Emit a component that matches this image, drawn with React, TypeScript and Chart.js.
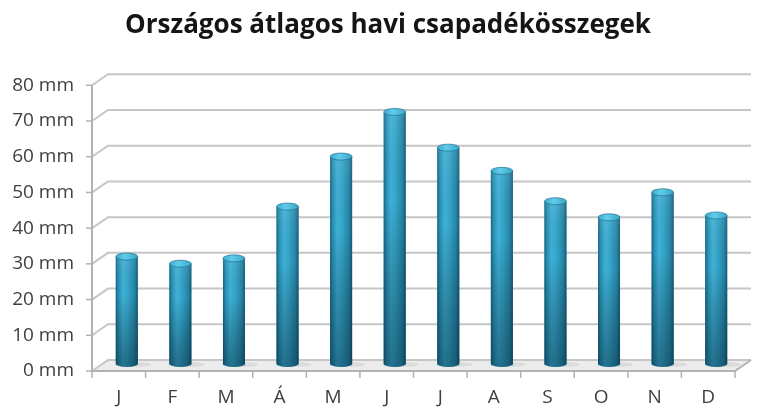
import React, { useEffect, useRef } from 'react';
import { Chart, registerables } from 'chart.js';

Chart.register(...registerables);

const chartTitle = 'Országos átlagos havi csapadékösszegek';
const months = ['J', 'F', 'M', 'Á', 'M', 'J', 'J', 'A', 'S', 'O', 'N', 'D'];
const rainfall = [30.5, 28.5, 30, 44.5, 58.5, 71, 61, 54.5, 46, 41.5, 48.5, 42];
const yMin = 0;
const yMax = 80;
const yStep = 10;
const unit = 'mm';

const DX = 8;
const DY = 5.5;

const depthPlugin = {
  id: 'depth3d',
  afterLayout(chart: any) {
    // let the y-axis labels use the space left of the title's box
    chart.scales.y.left = 0;
  },
  beforeDatasetsDraw(chart: any) {
    const { ctx, chartArea: a, scales } = chart;
    const x = scales.x;
    const y = scales.y;
    const fl = a.left - DX;
    const fr = a.right - DX;
    const bl = a.left + DX;
    const br = a.right + DX;
    const y0 = y.getPixelForValue(yMin);
    const fy = y0 + DY;
    const by = y0 - DY;
    ctx.save();
    // floor
    ctx.beginPath();
    ctx.moveTo(fl, fy);
    ctx.lineTo(fr, fy);
    ctx.lineTo(br, by);
    ctx.lineTo(bl, by);
    ctx.closePath();
    ctx.fillStyle = '#ececec';
    ctx.fill();
    // back grid lines with side wall diagonal
    ctx.strokeStyle = '#c6c6c6';
    ctx.lineWidth = 2;
    y.ticks.forEach((t: any) => {
      const py = y.getPixelForValue(t.value);
      ctx.beginPath();
      ctx.moveTo(fl, py + DY);
      ctx.lineTo(bl, py - DY);
      ctx.lineTo(br, py - DY);
      ctx.stroke();
    });
    // front axes
    ctx.strokeStyle = '#b2b2b2';
    ctx.beginPath();
    ctx.moveTo(fl, y.getPixelForValue(yMax) + DY);
    ctx.lineTo(fl, fy);
    ctx.lineTo(fr, fy);
    ctx.lineTo(br, by);
    ctx.stroke();
    // y tick marks
    ctx.lineWidth = 1.5;
    y.ticks.forEach((t: any) => {
      const py = y.getPixelForValue(t.value) + DY;
      ctx.beginPath();
      ctx.moveTo(fl - 6, py);
      ctx.lineTo(fl, py);
      ctx.stroke();
    });
    // x tick marks at category boundaries
    for (let i = 0; i <= months.length; i++) {
      const px = x.getPixelForValue(i - 0.5) - DX;
      ctx.beginPath();
      ctx.moveTo(px, fy);
      ctx.lineTo(px, fy + 7);
      ctx.stroke();
    }
    ctx.restore();
  },
  afterDatasetsDraw(chart: any) {
    const { ctx } = chart;
    const meta = chart.getDatasetMeta(0);
    ctx.save();
    meta.data.forEach((bar: any) => {
      const p = bar.getProps(['x', 'y', 'base', 'width'], true);
      const cx = p.x;
      const top = p.y;
      const base = p.base - 2;
      const w = p.width;
      const l = cx - w / 2;
      const r = cx + w / 2;
      const ry = 3.5;
      // floor shadow
      ctx.fillStyle = 'rgba(110,110,110,0.12)';
      ctx.beginPath();
      ctx.ellipse(cx + w * 0.4, base + 1, w * 0.7, 2.5, 0, 0, Math.PI * 2);
      ctx.fill();
      const body = () => {
        ctx.beginPath();
        ctx.moveTo(l, top);
        ctx.lineTo(l, base);
        ctx.ellipse(cx, base, w / 2, ry, 0, Math.PI, 0, true);
        ctx.lineTo(r, top);
        ctx.closePath();
      };
      const g = ctx.createLinearGradient(l, 0, r, 0);
      g.addColorStop(0, '#1a6580');
      g.addColorStop(0.12, '#2890b5');
      g.addColorStop(0.33, '#3fb1d6');
      g.addColorStop(0.55, '#35a5ca');
      g.addColorStop(0.85, '#2686a8');
      g.addColorStop(1, '#185c75');
      ctx.fillStyle = g;
      body();
      ctx.fill();
      const v = ctx.createLinearGradient(0, top, 0, base);
      v.addColorStop(0, 'rgba(255,255,255,0.08)');
      v.addColorStop(0.35, 'rgba(0,0,0,0)');
      v.addColorStop(1, 'rgba(0,30,45,0.42)');
      ctx.fillStyle = v;
      body();
      ctx.fill();
      // cap
      const c = ctx.createLinearGradient(l, 0, r, 0);
      c.addColorStop(0, '#3aa9cc');
      c.addColorStop(0.4, '#62cdea');
      c.addColorStop(1, '#3aa6c8');
      ctx.fillStyle = c;
      ctx.beginPath();
      ctx.ellipse(cx, top, w / 2, ry, 0, 0, Math.PI * 2);
      ctx.fill();
      ctx.strokeStyle = 'rgba(30,115,145,0.7)';
      ctx.lineWidth = 1;
      ctx.stroke();
    });
    ctx.restore();
  },
};

export default function App() {
  const ref = useRef<HTMLCanvasElement | null>(null);
  useEffect(() => {
    if (!ref.current) return;
    const chart = new Chart(ref.current, {
      type: 'bar',
      data: {
        labels: months,
        datasets: [
          {
            data: rainfall,
            backgroundColor: '#2596ba',
            borderWidth: 0,
            categoryPercentage: 1,
            barPercentage: 0.41,
          },
        ],
      },
      options: {
        responsive: false,
        animation: false,
        events: [],
        layout: { padding: { left: 33, right: 21, top: 0, bottom: 0 } },
        plugins: {
          legend: { display: false },
          tooltip: { enabled: false },
          title: {
            display: true,
            text: chartTitle,
            color: '#151515',
            font: { family: 'Open Sans', size: 26, weight: 'bold' },
            padding: { top: 9.5, bottom: 39.1 },
          },
        },
        scales: {
          x: {
            type: 'category',
            offset: true,
            grid: { display: false, drawTicks: false },
            border: { display: false },
            ticks: {
              color: '#404040',
              font: { family: 'Open Sans', size: 19 },
              padding: 21,
              labelOffset: -DX,
              maxRotation: 0,
              autoSkip: false,
            },
            afterFit: (s: any) => {
              s.height = 51.5;
            },
          },
          y: {
            min: yMin,
            max: yMax,
            grid: { display: false, drawTicks: false },
            border: { display: false },
            ticks: {
              stepSize: yStep,
              color: '#404040',
              font: { family: 'Open Sans', size: 19 },
              padding: 26,
              labelOffset: DY,
              callback: (v: any) => `${v} ${unit}`,
            },
            afterFit: (s: any) => {
              s.width = 67;
            },
          },
        },
      },
      plugins: [depthPlugin],
    });
    return () => chart.destroy();
  }, []);
  return (
    <div style={{ position: 'fixed', left: 0, top: 0, width: 764, height: 417, background: '#fff' }}>
      <canvas ref={ref} width={764} height={417} style={{ display: 'block' }} />
    </div>
  );
}
